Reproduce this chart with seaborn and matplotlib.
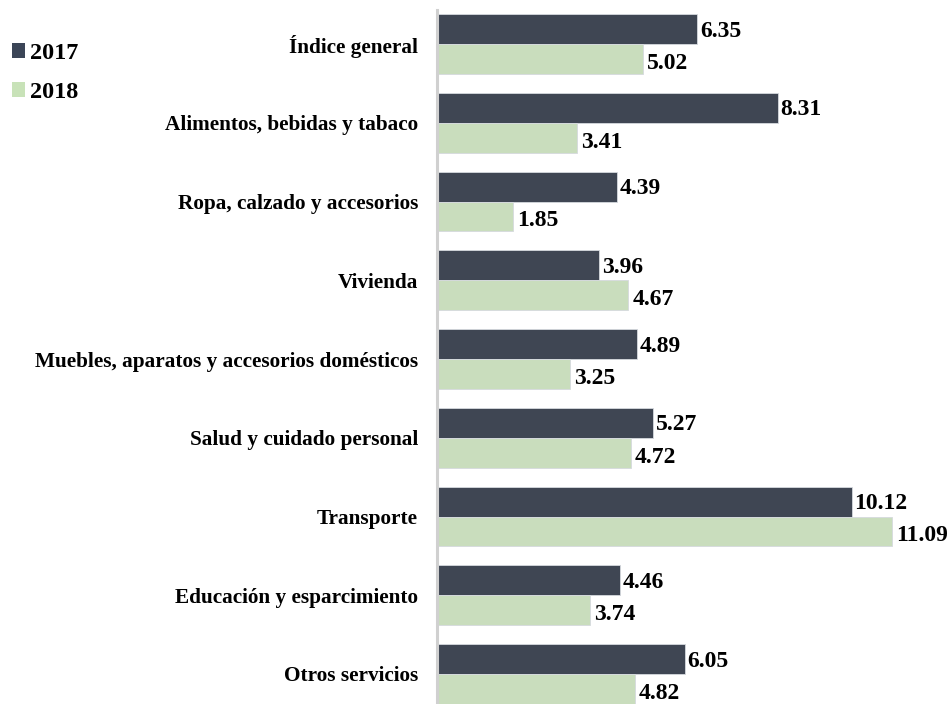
import matplotlib
matplotlib.use("Agg")
import matplotlib.pyplot as plt
import seaborn as sns
import pandas as pd
from matplotlib.patches import Patch

categories = [
    "Índice general",
    "Alimentos, bebidas y tabaco",
    "Ropa, calzado y accesorios",
    "Vivienda",
    "Muebles, aparatos y accesorios domésticos",
    "Salud y cuidado personal",
    "Transporte",
    "Educación y esparcimiento",
    "Otros servicios",
]
series_names = ["2017", "2018"]
values_2017 = [6.35, 8.31, 4.39, 3.96, 4.89, 5.27, 10.12, 4.46, 6.05]
values_2018 = [5.02, 3.41, 1.85, 4.67, 3.25, 4.72, 11.09, 3.74, 4.82]
colors = ["#3B4557", "#C8E2B8"]

df = pd.DataFrame({
    "category": categories * 2,
    "value": values_2017 + values_2018,
    "year": [series_names[0]] * len(categories) + [series_names[1]] * len(categories),
})

sns.set_theme(style="white")
plt.rcParams["font.family"] = ["Liberation Serif", "DejaVu Serif"]
plt.rcParams["font.weight"] = "bold"
plt.rcParams["text.color"] = "black"

W, H = 952, 704
fig = plt.figure(figsize=(W / 100, H / 100), dpi=100)
left_px, right_px, top_px, bottom_px = 437, 945, 10, 704
ax = fig.add_axes([left_px / W, 1 - bottom_px / H, (right_px - left_px) / W, (bottom_px - top_px) / H])

sns.barplot(data=df, x="value", y="category", hue="year", order=categories,
            hue_order=series_names, palette=colors, orient="h", width=0.76,
            edgecolor="#D5D9DE", linewidth=0.6, ax=ax, legend=False)

px_per_unit = 41.0
ax.set_xlim(0, (right_px - left_px) / px_per_unit)
ax.set_ylim(8.381, -0.432)

label_shift = [(1.8, -1.5), (3.0, -3.2)]  # (x pad, y shift) in points
for cont, vals, (padx, dy) in zip(ax.containers, [values_2017, values_2018], label_shift):
    texts = ax.bar_label(cont, labels=[f"{v:.2f}" for v in vals], padding=padx,
                         fontsize=17, fontweight="bold", color="black")
    for t in texts:
        x0, y0 = t.xyann
        t.xyann = (x0, y0 + dy)

ax.set_xlabel("")
ax.set_ylabel("")
ax.set_xticks([])
ax.tick_params(axis="y", length=0, pad=13.7)
for lbl in ax.get_yticklabels():
    lbl.set_fontsize(15.3)
    lbl.set_fontweight("bold")
    lbl.set_color("black")
for side in ["top", "right", "bottom"]:
    ax.spines[side].set_visible(False)
ax.spines["left"].set_color("#D0D0D0")
ax.spines["left"].set_linewidth(2.2)

handles = [Patch(facecolor=c, edgecolor="none") for c in colors]
fig.legend(handles, series_names, loc="upper left", bbox_to_anchor=(2 / W, 0.953),
           frameon=False, prop={"family": "Liberation Serif", "weight": "bold", "size": 17.5},
           labelcolor="black",
           handlelength=0.55, handleheight=0.55, handletextpad=0.2, labelspacing=0.74,
           borderaxespad=0.0)

fig.savefig("out.png", dpi=100)
